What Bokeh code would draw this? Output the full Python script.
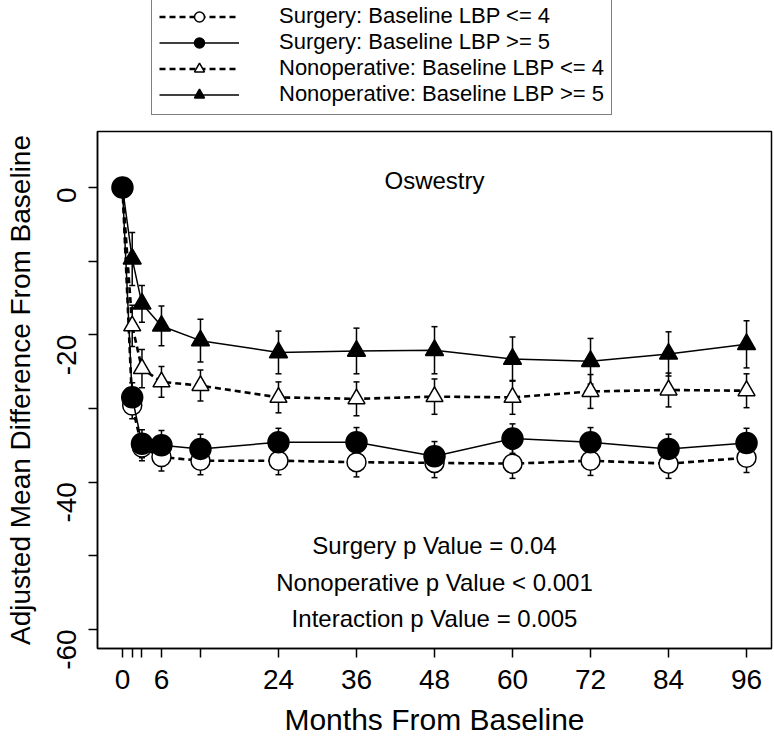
import math
from bokeh.plotting import figure
from bokeh.layouts import column
from bokeh.models import (Range1d, FixedTicker, Legend, LegendItem, Whisker,
                          ColumnDataSource, TeeHead, CustomJSTickFormatter)
from bokeh.embed import file_html
from bokeh.resources import INLINE
from bokeh.core.properties import value

# ---- data ----
months = [0, 1.5, 3, 6, 12, 24, 36, 48, 60, 72, 84, 96]

surg_low = [0, -29.6, -35.3, -36.6, -37.1, -37.1, -37.3, -37.4, -37.5, -37.1, -37.5, -36.7]
surg_low_err = [0, 1.8, 1.8, 1.9, 1.9, 1.9, 2.0, 2.0, 2.0, 2.0, 2.0, 2.0]

surg_high = [0, -28.5, -34.8, -35.0, -35.5, -34.6, -34.6, -36.5, -34.1, -34.6, -35.5, -34.7]
surg_high_err = [0, 2.0, 1.9, 2.0, 2.0, 1.9, 2.0, 2.0, 2.0, 2.0, 2.0, 2.0]

nonop_low = [0, -18.8, -24.6, -26.4, -26.9, -28.5, -28.7, -28.4, -28.5, -27.7, -27.5, -27.6]
nonop_low_err = [0, 2.8, 2.6, 2.1, 2.1, 2.1, 2.3, 2.4, 2.3, 2.3, 2.3, 2.3]

nonop_high = [0, -9.7, -15.8, -18.8, -20.8, -22.4, -22.2, -22.1, -23.3, -23.6, -22.6, -21.3]
nonop_high_err = [0, 3.6, 2.5, 2.7, 2.9, 2.9, 3.1, 3.2, 3.0, 3.1, 3.0, 3.2]

series_names = ["Surgery: Baseline LBP <= 4", "Surgery: Baseline LBP >= 5",
                "Nonoperative: Baseline LBP <= 4", "Nonoperative: Baseline LBP >= 5"]

x_ticks = [0, 1.5, 3, 6, 12, 24, 36, 48, 60, 72, 84, 96]
x_tick_labels = ["0", "", "", "6", "", "24", "36", "48", "60", "72", "84", "96"]
y_ticks = [-60, -50, -40, -30, -20, -10, 0]
y_tick_labels = ["-60", "", "-40", "", "-20", "", "0"]

panel_title = "Oswestry"
stat_lines = ["Surgery p Value = 0.04",
              "Nonoperative p Value < 0.001",
              "Interaction p Value = 0.005"]

FONT = "Liberation Sans"

styles = [
    dict(marker="circle", fill="white", dash="6 4", lw=2.6, size=19),
    dict(marker="circle", fill="black", dash="solid", lw=1.5, size=21),
    dict(marker="triangle", fill="white", dash="6 4", lw=2.6, size=17),
    dict(marker="triangle", fill="black", dash="solid", lw=1.5, size=18),
]
series_vals = [surg_low, surg_high, nonop_low, nonop_high]
series_errs = [surg_low_err, surg_high_err, nonop_low_err, nonop_high_err]

# ---------------- main plot ----------------
p = figure(width=774, height=611, output_backend="svg", toolbar_location=None,
           x_range=Range1d(-3.84, 99.84), y_range=Range1d(-62.6, 7.6),
           min_border_left=97, min_border_right=3, min_border_bottom=91,
           min_border_top=3)
p.xgrid.visible = False
p.ygrid.visible = False
p.outline_line_color = "black"
p.outline_line_width = 1.5
p.background_fill_color = "white"
p.border_fill_color = "white"

for vals, errs, st in zip(series_vals, series_errs, styles):
    src = ColumnDataSource(dict(
        x=months, y=vals,
        upper=[v + e for v, e in zip(vals, errs)],
        lower=[v - e for v, e in zip(vals, errs)],
    ))
    p.line("x", "y", source=src, line_color="black", line_width=st["lw"],
           line_dash=st["dash"])
    w = Whisker(source=src, base="x", upper="upper", lower="lower",
                line_color="black", line_width=1.5,
                upper_head=TeeHead(size=6, line_width=1.5, line_color="black"),
                lower_head=TeeHead(size=6, line_width=1.5, line_color="black"))
    p.add_layout(w)
    p.scatter("x", "y", source=src, marker=st["marker"], size=st["size"],
              fill_color=st["fill"], line_color="black", line_width=1.5)

p.text(x=[48], y=[1.0], text=[panel_title], text_font=value(FONT),
       text_font_size="24px", text_align="center", text_baseline="middle",
       text_color="black")
p.text(x=[48] * 3, y=[-48.6, -53.6, -58.5], text=stat_lines, text_font=value(FONT),
       text_font_size="24px", text_align="center", text_baseline="middle",
       text_color="black")

fmt_code = "const i = tick_values.indexOf(tick); return i >= 0 ? tick_labels[i] : '';"
p.xaxis.ticker = FixedTicker(ticks=x_ticks)
p.xaxis.formatter = CustomJSTickFormatter(
    args=dict(tick_values=x_ticks, tick_labels=x_tick_labels), code=fmt_code)
p.yaxis.ticker = FixedTicker(ticks=y_ticks)
p.yaxis.formatter = CustomJSTickFormatter(
    args=dict(tick_values=y_ticks, tick_labels=y_tick_labels), code=fmt_code)
p.yaxis.major_label_orientation = math.pi / 2
for ax in (p.xaxis, p.yaxis):
    ax.major_tick_out = 9
    ax.major_tick_in = 0
    ax.minor_tick_line_color = None
    ax.axis_line_color = "black"
    ax.axis_line_width = 1.5
    ax.major_tick_line_width = 1.5
    ax.major_label_text_font = FONT
    ax.major_label_text_font_size = "28px"
    ax.major_label_text_color = "black"
    ax.axis_label_text_font = FONT
    ax.axis_label_text_font_style = "normal"
    ax.axis_label_text_color = "black"
p.xaxis.axis_label = "Months From Baseline"
p.yaxis.axis_label = "Adjusted Mean Difference From Baseline"
p.xaxis.axis_label_text_font_size = "30px"
p.yaxis.axis_label_text_font_size = "28px"
p.xaxis.major_label_standoff = 12
p.xaxis.axis_label_standoff = 11
p.yaxis.major_label_standoff = 22
p.yaxis.axis_label_standoff = 9

# ---------------- legend strip above the plot ----------------
lg = figure(width=774, height=128, output_backend="svg", toolbar_location=None,
            x_range=Range1d(0, 1), y_range=Range1d(0, 1),
            x_axis_location=None, y_axis_location=None,
            min_border_left=97, min_border_right=3, min_border_top=0,
            min_border_bottom=0)
lg.xgrid.visible = False
lg.ygrid.visible = False
lg.outline_line_color = None
lg.background_fill_color = "white"
lg.border_fill_color = "white"

items = []
for name, st in zip(series_names, styles):
    # legend proxies only: a single undefined point, never drawn in the strip
    proxy = ColumnDataSource(dict(x=[float("nan")], y=[float("nan")]))
    lr = lg.line("x", "y", source=proxy, line_color="black", line_width=st["lw"],
                 line_dash=st["dash"])
    sr = lg.scatter("x", "y", source=proxy, marker=st["marker"], size=st["size"],
                    fill_color=st["fill"], line_color="black", line_width=1.5)
    items.append(LegendItem(label=name, renderers=[lr, sr]))

legend = Legend(items=items, location=(54, 13), orientation="vertical",
                label_text_font=FONT, label_text_font_size="22px",
                label_text_color="black",
                glyph_width=80, glyph_height=25, label_height=25,
                label_standoff=40, spacing=0, padding=7, margin=0,
                border_line_color="black", border_line_width=1.5,
                background_fill_color="white", background_fill_alpha=1.0)
lg.add_layout(legend, "center")

layout = column(lg, p, spacing=0)
open("out.html", "w").write(file_html(layout, INLINE))
